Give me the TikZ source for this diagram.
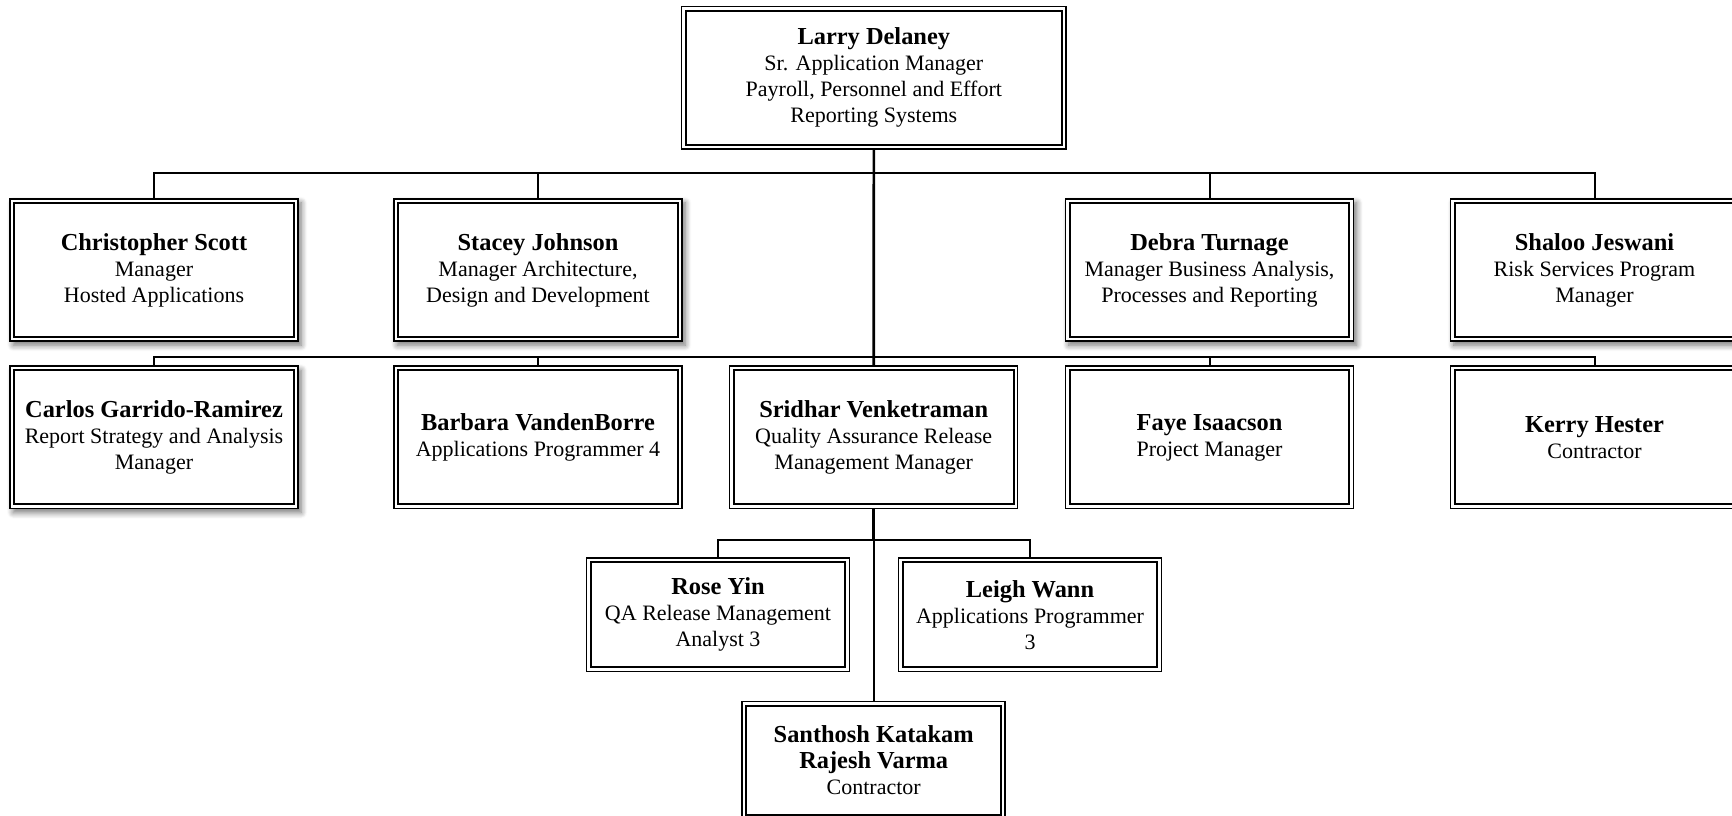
\documentclass[tikz,border=0pt]{standalone}
\usepackage{fontspec}
\setmainfont{Liberation Serif}
\usetikzlibrary{shadows.blur}
\newcommand{\pname}[1]{{\bfseries\fontsize{12.2}{14}\selectfont #1}}
\begin{document}
\begin{tikzpicture}[x=0.5pt,y=-0.5pt,
  person/.style={rectangle, draw=black, line width=0.75pt, fill=white,
    align=center, inner sep=0pt, font=\fontsize{11}{13}\selectfont,
    minimum width=144pt, minimum height=71.2pt,
    path picture={\draw[line width=1pt]
      ([shift={(2.1pt,2.1pt)}]path picture bounding box.south west) rectangle
      ([shift={(-2.1pt,-2.1pt)}]path picture bounding box.north east);}},
  small/.style={person, minimum width=131.5pt, minimum height=56.9pt},
  shadowed/.style={blur shadow={shadow xshift=1.6pt, shadow yshift=-2pt,
    shadow blur steps=8, shadow blur radius=3pt, shadow opacity=55}},
  conn/.style={draw=black, line width=1pt},
  trunk/.style={draw=black, line width=1.3pt},
  thinconn/.style={draw=black, line width=0.8pt}]
\clip (0,0) rectangle (1732,815);
\useasboundingbox (0,0) rectangle (1732,815);

\node[person, minimum width=192.2pt] (larry) at (873.8,77.9)
  {\pname{Larry Delaney}\\Sr. Application Manager\\Payroll, Personnel and Effort\\Reporting Systems};

\node[person, shadowed] (chris) at (154,270)
  {\pname{Christopher Scott}\\Manager\\Hosted Applications};
\node[person, shadowed] (stacey) at (538,270)
  {\pname{Stacey Johnson}\\Manager Architecture,\\Design and Development};
\node[person, shadowed] (debra) at (1209.5,270)
  {\pname{Debra Turnage}\\Manager Business Analysis,\\Processes and Reporting};
\node[person, shadowed] (shaloo) at (1594.5,270)
  {\pname{Shaloo Jeswani}\\Risk Services Program\\Manager};

\node[person, shadowed] (carlos) at (154,437.4)
  {\pname{Carlos Garrido-Ramirez}\\Report Strategy and Analysis\\Manager};
\node[person] (barbara) at (538,437.4)
  {\pname{Barbara VandenBorre}\\Applications Programmer 4};
\node[person] (sridhar) at (873.7,437.4)
  {\pname{Sridhar Venketraman}\\Quality Assurance Release\\Management Manager};
\node[person] (faye) at (1209.5,437.4)
  {\pname{Faye Isaacson}\\Project Manager};
\node[person] (kerry) at (1594.5,437.4)
  {\pname{Kerry Hester}\\Contractor};

\node[small] (rose) at (718,614.7)
  {\pname{Rose Yin}\\QA Release Management\\Analyst 3};
\node[small] (leigh) at (1030,614.7)
  {\pname{Leigh Wann}\\Applications Programmer\\3};
\node[small, minimum height=59pt] (santhosh) at (873.7,760.4)
  {\pname{Santhosh Katakam}\\\pname{Rajesh Varma}\\Contractor};

\coordinate (bus1) at (873.7,173.4);
\coordinate (bus2) at (873.7,356.8);
\coordinate (bus3) at (873.7,540);

\draw[trunk] (larry.south) -- (sridhar.north);
\draw[conn] (chris.north) |- (bus1) -| (shaloo.north);
\draw[conn] (stacey.north) -- (stacey.north |- bus1);
\draw[conn] (debra.north) -- (debra.north |- bus1);
\draw[conn] (carlos.north) |- (bus2) -| (kerry.north);
\draw[conn] (barbara.north) -- (barbara.north |- bus2);
\draw[conn] (faye.north) -- (faye.north |- bus2);
\draw[trunk] (sridhar.south) -- (bus3);
\draw[conn] (rose.north) |- (bus3) -| (leigh.north);
\draw[thinconn] (bus3) -- (santhosh.north);
\end{tikzpicture}
\end{document}
